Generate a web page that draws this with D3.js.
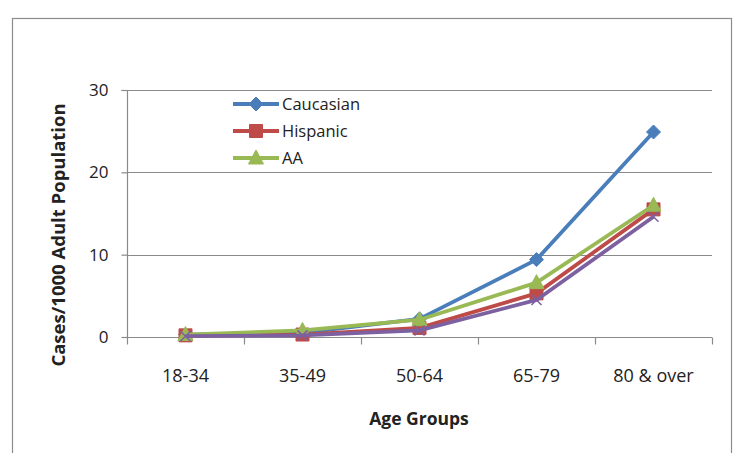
<!DOCTYPE html>
<html>
<head>
<meta charset="utf-8">
<script src="https://cdn.jsdelivr.net/npm/d3@7/dist/d3.min.js"></script>
<style>
  html, body { margin: 0; padding: 0; background: #fff; }
  svg { display: block; }
  text { font-family: "Open Sans", "Liberation Sans", sans-serif; fill: #222; }
</style>
</head>
<body>
<svg id="chart" width="738" height="453"></svg>
<script>
// Age-group categories and incidence per 1000 adults
const categories = ["18-34", "35-49", "50-64", "65-79", "80 & over"];
const caucasian = [0.3, 0.5, 2.2, 9.4, 24.9];
const hispanic  = [0.2, 0.3, 1.1, 5.3, 15.5];
const aa        = [0.3, 0.8, 2.1, 6.6, 16.0];
const other     = [0.1, 0.2, 0.8, 4.5, 14.6];
const yTicks = [0, 10, 20, 30];

const series = [
  { name: "Caucasian", values: caucasian, color: "#4A7EBB", marker: "diamond", legend: true },
  { name: "Hispanic",  values: hispanic,  color: "#BE4B48", marker: "square",  legend: true },
  { name: "AA",        values: aa,        color: "#98B954", marker: "triangle", legend: true },
  { name: "Other",     values: other,     color: "#7D60A0", marker: "x",       legend: false }
];

const svg = d3.select("#chart");

// outer chart frame
svg.append("rect")
  .attr("x", 12.5).attr("y", 18.5)
  .attr("width", 719).attr("height", 460)
  .attr("fill", "#fff").attr("stroke", "#8c8c8c").attr("stroke-width", 1.2);

const plot = { left: 127, right: 712, top: 90, bottom: 337 };

const x = d3.scaleBand().domain(categories).range([plot.left, plot.right]);
const y = d3.scaleLinear().domain([0, 30]).range([plot.bottom, plot.top]);

// horizontal gridlines
svg.append("g").selectAll("line").data(yTicks.filter(d => d > 0)).join("line")
  .attr("x1", plot.left).attr("x2", plot.right)
  .attr("y1", d => Math.round(y(d)) + 0.5).attr("y2", d => Math.round(y(d)) + 0.5)
  .attr("stroke", "#8a8a8a").attr("stroke-width", 1.2);

// y axis
const yAxis = svg.append("g")
  .attr("transform", `translate(${plot.left + 0.5},0)`)
  .call(d3.axisLeft(y).tickValues(yTicks).tickSize(6).tickPadding(13));
yAxis.selectAll("path, line").attr("stroke", "#8a8a8a").attr("stroke-width", 1.2);
yAxis.select(".domain").attr("d", `M-6,${plot.top + 0.5}H0V${plot.bottom + 0.5}`);
yAxis.selectAll("text").style("font-size", "17px").style("font-family", "'Open Sans', sans-serif").attr("fill", "#222");

// x axis with ticks at category boundaries
const xAxisG = svg.append("g").attr("transform", `translate(0,${Math.round(plot.bottom) + 0.5})`);
xAxisG.append("line").attr("x1", plot.left).attr("x2", plot.right)
  .attr("stroke", "#8a8a8a").attr("stroke-width", 1.2);
const bounds = categories.map(c => x(c)).concat([plot.right]);
xAxisG.selectAll("line.tick").data(bounds).join("line").attr("class", "tick")
  .attr("x1", d => Math.round(d) + 0.5).attr("x2", d => Math.round(d) + 0.5)
  .attr("y1", 0).attr("y2", 7)
  .attr("stroke", "#8a8a8a").attr("stroke-width", 1.2);
xAxisG.selectAll("text").data(categories).join("text")
  .attr("x", d => x(d) + x.bandwidth() / 2)
  .attr("y", 44)
  .attr("text-anchor", "middle")
  .style("font-size", "18px")
  .text(d => d);

// axis titles
svg.append("text")
  .attr("x", 419).attr("y", 425)
  .attr("text-anchor", "middle")
  .style("font-size", "17.5px").style("font-weight", "bold")
  .text("Age Groups");
svg.append("text")
  .attr("transform", `translate(65,235) rotate(-90)`)
  .attr("text-anchor", "middle")
  .style("font-size", "18.5px").style("font-weight", "bold")
  .text("Cases/1000 Adult Population");

// marker shapes
function markerPath(type) {
  switch (type) {
    case "diamond": return "M0,-7L7,0L0,7L-7,0Z";
    case "square": return "M-6.5,-6.5H6.5V6.5H-6.5Z";
    case "triangle": return "M0,-8L7.5,6H-7.5Z";
    default: return "M-5,-5L5,5M-5,5L5,-5";
  }
}

const line = d3.line()
  .x((d, i) => x(categories[i]) + x.bandwidth() / 2)
  .y(d => y(d));

series.forEach(s => {
  const g = svg.append("g");
  g.append("path").datum(s.values)
    .attr("d", line)
    .attr("fill", "none").attr("stroke", s.color)
    .attr("stroke-width", 3.8).attr("stroke-linejoin", "round");
  g.selectAll("path.m").data(s.values).join("path").attr("class", "m")
    .attr("transform", (d, i) => `translate(${x(categories[i]) + x.bandwidth() / 2},${y(d)})`)
    .attr("d", markerPath(s.marker))
    .attr("fill", s.marker === "x" ? "none" : s.color)
    .attr("stroke", s.color)
    .attr("stroke-width", s.marker === "x" ? 1.5 : 1);
});

// legend
const legend = svg.append("g");
series.filter(s => s.legend).forEach((s, i) => {
  const ly = 104 + i * 27;
  legend.append("line").attr("x1", 233).attr("x2", 279).attr("y1", ly).attr("y2", ly)
    .attr("stroke", s.color).attr("stroke-width", 3.8);
  legend.append("path").attr("transform", `translate(256,${ly})`)
    .attr("d", markerPath(s.marker)).attr("fill", s.color).attr("stroke", s.color);
  legend.append("text").attr("x", 282).attr("y", ly + 6)
    .style("font-size", "16.5px").text(s.name);
});
</script>
</body>
</html>
